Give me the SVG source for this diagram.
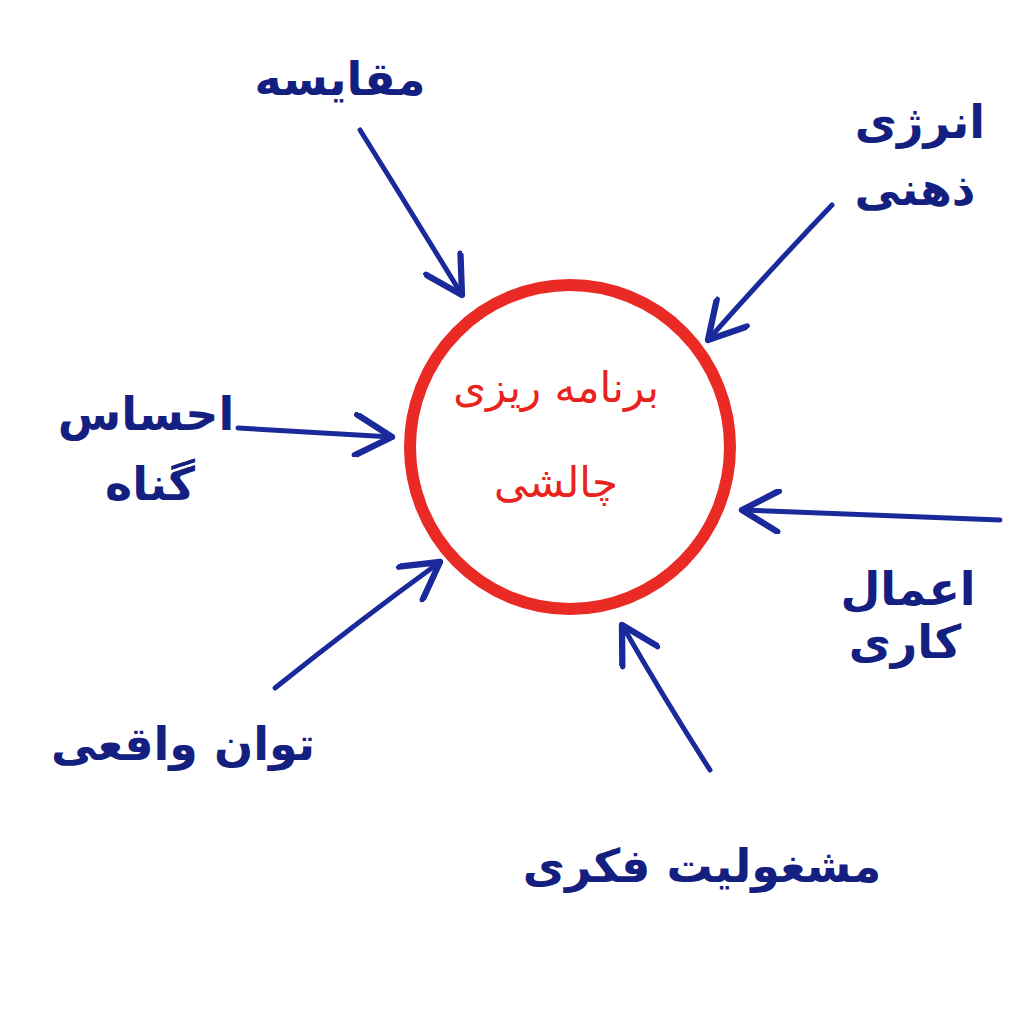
<svg xmlns="http://www.w3.org/2000/svg" width="1024" height="1009" viewBox="0 0 1024 1009">
<defs>
<style>
.lbl{font-family:"DejaVu Sans","Noto Sans",sans-serif;fill:#142080;font-size:46px;font-weight:bold;text-anchor:middle;direction:rtl}
.ctr{font-family:"DejaVu Sans","Noto Sans",sans-serif;fill:#e8221c;font-size:42px;text-anchor:middle;direction:rtl}
.con{fill:none;stroke:#1a2a9a;stroke-width:5;stroke-linecap:round;stroke-linejoin:round}
</style>
<marker id="head" viewBox="0 0 20 20" refX="18" refY="10" markerWidth="9" markerHeight="9" markerUnits="strokeWidth" orient="auto">
<path d="M2,1 L18,10 L2,19" fill="none" stroke="#1a2a9a" stroke-width="2.8" stroke-linecap="round" stroke-linejoin="round"/>
</marker>
</defs>
<rect width="1024" height="1009" fill="#ffffff"/>
<g id="connectors">
<path class="con" d="M360,130 Q410,210 462,295" marker-end="url(#head)"/>
<path class="con" d="M832,205 Q770,270 708,340" marker-end="url(#head)"/>
<path class="con" d="M238,428 L392,437" marker-end="url(#head)"/>
<path class="con" d="M1000,520 L742,510" marker-end="url(#head)"/>
<path class="con" d="M275,688 Q360,620 440,562" marker-end="url(#head)"/>
<path class="con" d="M710,770 Q665,700 622,625" marker-end="url(#head)"/>
</g>
<g id="center">
<ellipse cx="570" cy="447" rx="160" ry="162" fill="none" stroke="#ea2a24" stroke-width="12"/>
<text class="ctr" x="556" y="402">برنامه ریزی</text>
<text class="ctr" x="556" y="497">چالشی</text>
</g>
<g id="n-compare"><text class="lbl" x="340" y="95">مقایسه</text></g>
<g id="n-energy"><text class="lbl" x="920" y="138">انرژی</text><text class="lbl" x="915" y="205">ذهنی</text></g>
<g id="n-guilt"><text class="lbl" x="146" y="430">احساس</text><text class="lbl" x="150" y="500">گناه</text></g>
<g id="n-actions"><text class="lbl" x="908" y="605">اعمال</text><text class="lbl" x="905" y="658">کاری</text></g>
<g id="n-ability"><text class="lbl" x="183" y="760">توان واقعی</text></g>
<g id="n-preoccupation"><text class="lbl" x="702" y="882">مشغولیت فکری</text></g>
</svg>
